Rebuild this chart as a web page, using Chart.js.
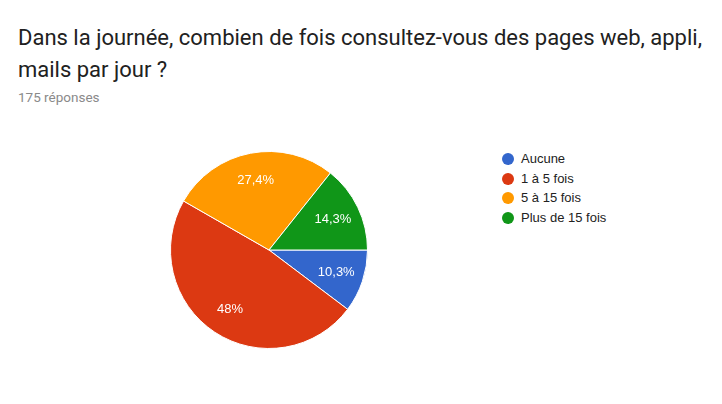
<!DOCTYPE html>
<html>
<head>
<meta charset="utf-8">
<script src="https://cdn.jsdelivr.net/npm/chart.js@4/dist/chart.umd.min.js"></script>
<style>
  body { margin: 0; background: #fff; width: 722px; height: 404px; position: relative; overflow: hidden; }
  #titre { position: absolute; left: 18px; top: 22px; width: 692px; font-family: Roboto, sans-serif; font-size: 22px; line-height: 32px; color: #212121; }
  #nb { position: absolute; left: 18px; top: 89px; font-family: Roboto, sans-serif; font-size: 13.5px; color: #8a8a8a; }
  #box { position: absolute; left: 166px; top: 147px; width: 206px; height: 206px; }
  #legende { position: absolute; left: 502px; top: 149px; font-family: Arial, "Liberation Sans", sans-serif; font-size: 13px; color: #222; }
  #legende div { height: 19.7px; line-height: 19.7px; white-space: nowrap; }
  #legende span { display: inline-block; width: 12px; height: 12px; border-radius: 50%; vertical-align: -2px; margin-right: 7px; }
</style>
</head>
<body>
<div id="titre">Dans la journée, combien de fois consultez-vous des pages web, appli, mails par jour ?</div>
<div id="nb">175 réponses</div>
<div id="box"><canvas id="camembert"></canvas></div>
<div id="legende"></div>
<script>
document.addEventListener("DOMContentLoaded", function () {

  // réponses (175 au total)
  const reponses = ['Aucune', '1 à 5 fois', '5 à 15 fois', 'Plus de 15 fois'];
  const nombres = [18, 84, 48, 25];
  const couleurs = ['#3366cc', '#dc3912', '#ff9900', '#109618'];

  const total = nombres.reduce((a, b) => a + b, 0);

  // légende à droite
  const leg = document.getElementById('legende');
  reponses.forEach(function (r, i) {
    const d = document.createElement('div');
    d.innerHTML = '<span style="background:' + couleurs[i] + '"></span>' + r;
    leg.appendChild(d);
  });

  // pourcentages dans les parts
  const pourcents = {
    id: 'pourcents',
    afterDatasetsDraw(chart) {
      const ctx = chart.ctx;
      const meta = chart.getDatasetMeta(0);
      ctx.save();
      ctx.font = '13px Arial, "Liberation Sans", sans-serif';
      ctx.fillStyle = '#fff';
      ctx.textAlign = 'center';
      ctx.textBaseline = 'middle';
      meta.data.forEach(function (arc, i) {
        const p = arc.getProps(['x', 'y', 'startAngle', 'endAngle', 'outerRadius']);
        const a = (p.startAngle + p.endAngle) / 2;
        const r = p.outerRadius * 0.72;
        let txt = (nombres[i] / total * 100).toFixed(1).replace('.0', '').replace('.', ',') + '%';
        ctx.fillText(txt, p.x + Math.cos(a) * r, p.y + Math.sin(a) * r);
      });
      ctx.restore();
    }
  };

  const pieCtx = document.getElementById('camembert');
  const pieChart = new Chart(pieCtx, {
    type: 'pie',
    data: {
      labels: reponses,
      datasets: [{
        data: nombres,
        backgroundColor: couleurs,
        borderColor: '#fff',
        borderWidth: 1
      }]
    },
    options: {
      responsive: true,
      maintainAspectRatio: false,
      animation: false,
      rotation: 90,
      layout: { padding: 4 },
      plugins: {
        legend: { display: false },
        tooltip: { enabled: false }
      }
    },
    plugins: [pourcents]
  });

});
</script>
</body>
</html>
